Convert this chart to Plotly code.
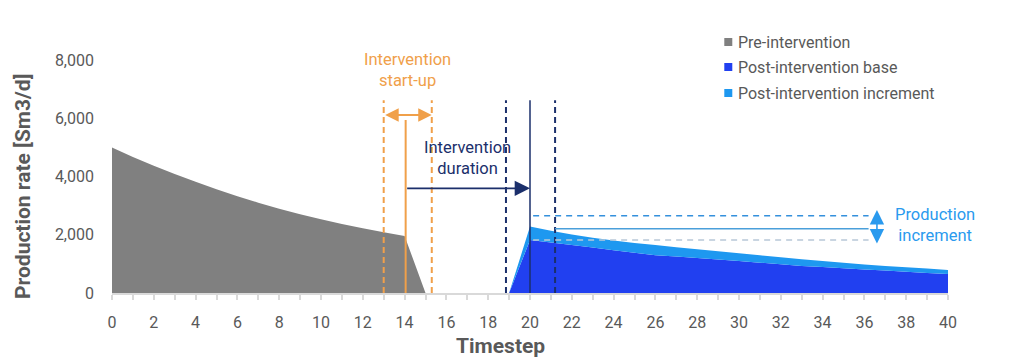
import plotly.graph_objects as go

# ---- data ----
pre_t = list(range(0, 16))
pre_rate = [5000, 4670, 4370, 4090, 3820, 3565, 3325, 3100, 2895, 2705,
            2530, 2370, 2220, 2085, 1960, 0]

post_t = list(range(19, 41))
post_base = [0, 1820, 1735, 1650, 1560, 1470, 1385, 1300, 1250, 1200, 1150,
             1100, 1040, 985, 930, 890, 850, 810, 770, 730, 690, 655]
post_total = [0, 2280, 2140, 2010, 1900, 1800, 1720, 1650, 1575, 1500, 1430,
              1365, 1295, 1225, 1160, 1100, 1040, 975, 930, 885, 840, 790]
post_incr = [t - b for t, b in zip(post_total, post_base)]

x_ticks = list(range(0, 41))
x_ticktext = [str(v) if v % 2 == 0 else "" for v in x_ticks]
y_ticks = [0, 2000, 4000, 6000, 8000]

series_names = ["Pre-intervention", "Post-intervention base", "Post-intervention increment"]
x_title = "Timestep"
y_title = "Production rate [Sm3/d]"

GRAY = "#808080"
BLUE = "#2140F0"
LIGHT = "#1E98F0"
ORANGE = "#F0A04A"
NAVY = "#1B2F6B"
INC = "#2A9AEE"
TXT = "#595959"
FONT = "Roboto"

# page is shown with an 8px body margin; compensate in the figure geometry
W, H = 1016, 350
ML, MR, MT, MB = 104, 76.4, 52, 65
PW = W - ML - MR
PH = H - MT - MB

def px_x(page_x):
    return (page_x - 8 - ML) / PW

def px_y(page_y):
    return (H - MB + 8 - page_y) / PH

fig = go.Figure()

fig.add_trace(go.Scatter(x=pre_t, y=pre_rate, mode="none", fill="tozeroy",
                         fillcolor=GRAY, name=series_names[0], showlegend=False,
                         hoverinfo="skip"))
fig.add_trace(go.Scatter(x=post_t, y=post_base, mode="none", stackgroup="post",
                         fillcolor=BLUE, name=series_names[1], showlegend=False,
                         hoverinfo="skip"))
fig.add_trace(go.Scatter(x=post_t, y=post_incr, mode="none", stackgroup="post",
                         fillcolor=LIGHT, name=series_names[2], showlegend=False,
                         hoverinfo="skip"))

shapes = []
def vline(x, y1, color, dash, width=2):
    shapes.append(dict(type="line", xref="x", yref="y", x0=x, x1=x, y0=0, y1=y1,
                       line=dict(color=color, width=width, dash=dash)))
def hline(y, x0, x1, color, dash, width=1.5):
    shapes.append(dict(type="line", xref="x", yref="y", x0=x0, x1=x1, y0=y, y1=y,
                       line=dict(color=color, width=width, dash=dash)))

vline(13.0, 6620, ORANGE, "6px,4px")
vline(15.3, 6620, ORANGE, "6px,4px")
vline(14.05, 5940, ORANGE, "solid", 2)
vline(18.85, 6620, NAVY, "6px,4px")
vline(21.2, 6620, NAVY, "6px,4px")
vline(20.0, 6620, NAVY, "solid", 1.5)

hline(2655, 20.15, 36.2, "#3490DC", "6px,5px")
hline(2208, 21.2, 36.2, "#4A9FDA", "solid")
hline(1820, 20.15, 36.2, "#B8C8D8", "6px,5px")

annotations = [
    dict(x=15.3, y=6110, ax=13.0, ay=6110, xref="x", yref="y", axref="x", ayref="y",
         showarrow=True, arrowside="end+start", arrowhead=2, arrowsize=1.35,
         arrowwidth=2, arrowcolor=ORANGE, text="", standoff=0, startstandoff=0),
    dict(x=20.0, y=3595, ax=14.05, ay=3595, xref="x", yref="y", axref="x", ayref="y",
         showarrow=True, arrowhead=2, arrowsize=1.7, arrowwidth=1.8,
         arrowcolor=NAVY, text="", standoff=0),
    dict(x=36.6, y=2850, ax=36.6, ay=1650, xref="x", yref="y", axref="x", ayref="y",
         showarrow=True, arrowside="end+start", arrowhead=2, arrowsize=1.8,
         arrowwidth=1.6, arrowcolor=INC, text="", standoff=0, startstandoff=0),
    dict(x=14.15, y=7640, xref="x", yref="y", showarrow=False,
         text="Intervention<br>start-up", font=dict(family=FONT, size=16.5, color=ORANGE)),
    dict(x=17.0, y=4650, xref="x", yref="y", showarrow=False,
         text="Intervention<br>duration", font=dict(family=FONT, size=16.5, color=NAVY)),
    dict(x=39.4, y=2335, xref="x", yref="y", showarrow=False,
         text="Production<br>increment", font=dict(family=FONT, size=16.5, color=INC)),
    # axis titles
    dict(x=px_x(500), y=px_y(346), xref="paper", yref="paper", showarrow=False,
         xanchor="center", yanchor="middle",
         text="<b>" + x_title + "</b>", font=dict(family=FONT, size=21, color=TXT)),
    dict(x=px_x(23), y=px_y(186), xref="paper", yref="paper", showarrow=False,
         xanchor="center", yanchor="middle", textangle=-90,
         text="<b>" + y_title + "</b>", font=dict(family=FONT, size=21, color=TXT)),
]

# legend drawn as squares + labels
legend_rows = [42, 67, 93]
for name, col, row in zip(series_names, [GRAY, BLUE, LIGHT], legend_rows):
    shapes.append(dict(type="rect", xref="paper", yref="paper",
                       x0=px_x(724), x1=px_x(732), y0=px_y(row + 4), y1=px_y(row - 4),
                       fillcolor=col, line=dict(width=0)))
    annotations.append(dict(x=px_x(735.5), y=px_y(row), xref="paper", yref="paper",
                            xanchor="left", yanchor="middle", showarrow=False,
                            text=name, font=dict(family=FONT, size=16, color=TXT)))

fig.update_layout(
    width=W, height=H,
    margin=dict(l=ML, r=MR, t=MT, b=MB),
    paper_bgcolor="white", plot_bgcolor="white",
    font=dict(family=FONT, color=TXT),
    shapes=shapes, annotations=annotations,
    showlegend=False,
    xaxis=dict(range=[0, 40], tickvals=x_ticks, ticktext=x_ticktext,
               ticks="outside", ticklen=5, tickcolor="#D9D9D9", tickwidth=1.5,
               showline=True, linecolor="#D9D9D9", linewidth=1.5,
               showgrid=False, zeroline=False, automargin=False,
               tickfont=dict(family=FONT, size=16, color=TXT),
               ticklabelstandoff=9),
    yaxis=dict(range=[0, 8000], tickvals=y_ticks, tickformat=",",
               showgrid=False, zeroline=False, showline=False, ticks="",
               automargin=False,
               tickfont=dict(family=FONT, size=16, color=TXT),
               ticklabelstandoff=17),
)

fig.write_html("out.html")
